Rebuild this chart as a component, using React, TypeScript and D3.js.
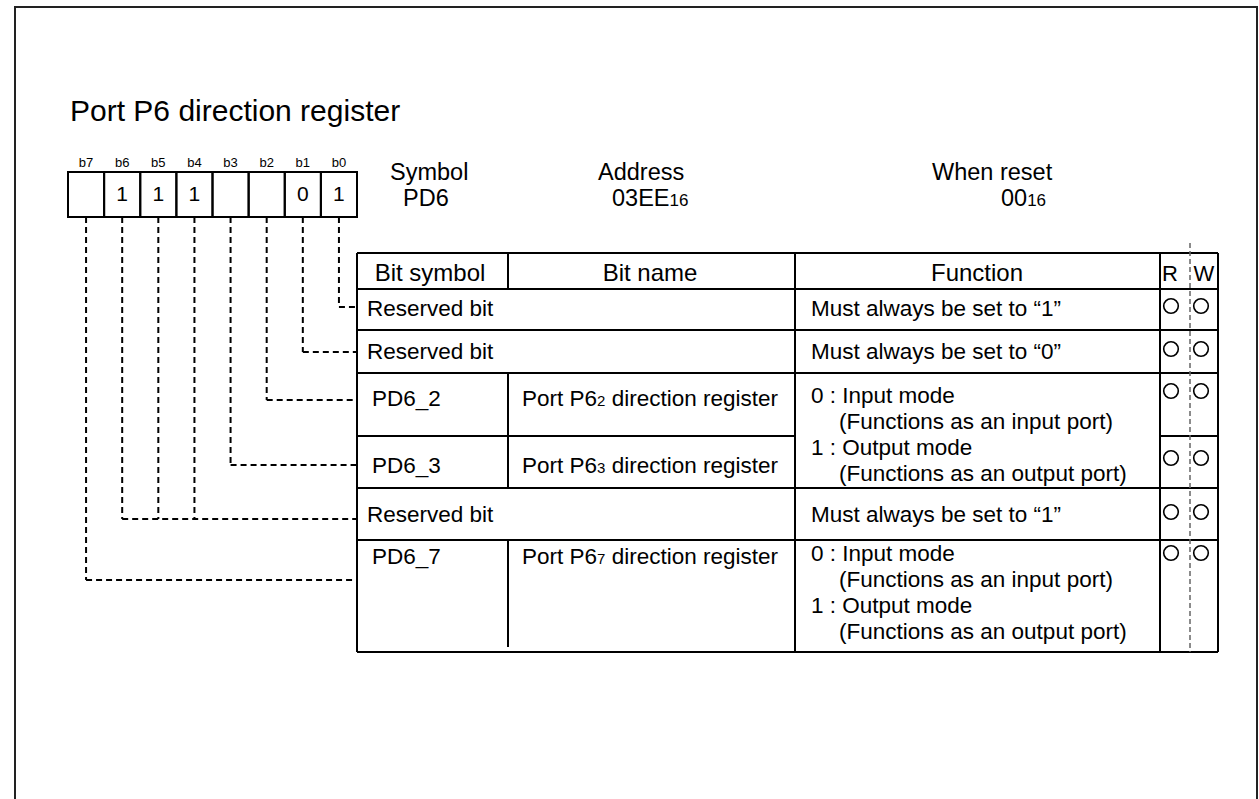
import * as d3 from "d3";
import React from "react";

// register title and bit header
const title = "Port P6 direction register";
const bitLabels = ["b7", "b6", "b5", "b4", "b3", "b2", "b1", "b0"];
const bitValues = ["", "1", "1", "1", "", "", "0", "1"];

// symbol / address / reset value
const infoLabels = ["Symbol", "Address", "When reset"];
const infoValues = ["PD6", "03EE", "00"];
const infoSubs = ["", "16", "16"];

// table columns and rows
const columnTitles = ["Bit symbol", "Bit name", "Function", "R", "W"];
const rowSymbols = ["Reserved bit", "Reserved bit", "PD6_2", "PD6_3", "Reserved bit", "PD6_7"];
const rowNameSubs = ["", "", "2", "3", "", "7"];
const rowBits = [["b0"], ["b1"], ["b2"], ["b3"], ["b4", "b5", "b6"], ["b7"]];
const rowRead = ["O", "O", "O", "O", "O", "O"];
const rowWrite = ["O", "O", "O", "O", "O", "O"];
const functionLines = [
  ["Must always be set to \u201c1\u201d"],
  ["Must always be set to \u201c0\u201d"],
  ["0 : Input mode", "(Functions as an input port)", "1 : Output mode", "(Functions as an output port)"],
  [],
  ["Must always be set to \u201c1\u201d"],
  ["0 : Input mode", "(Functions as an input port)", "1 : Output mode", "(Functions as an output port)"],
];
// how many table rows each function cell covers
const functionSpan = [1, 1, 2, 0, 1, 1];

const FONT = "'Liberation Sans', Arial, Helvetica, sans-serif";

export default function App() {
  const ref = React.useRef<SVGSVGElement>(null);

  React.useEffect(() => {
    const svg = d3.select(ref.current);
    svg.selectAll("*").remove();
    svg.style("font-family", FONT);

    // page frame
    svg
      .append("rect")
      .attr("x", 15)
      .attr("y", 7)
      .attr("width", 1242)
      .attr("height", 900)
      .attr("fill", "none")
      .attr("stroke", "#222")
      .attr("stroke-width", 2);

    // title
    svg
      .append("text")
      .attr("x", 70)
      .attr("y", 121)
      .style("font-size", "30px")
      .text(title);

    // bit boxes
    const x = d3.scaleBand().domain(bitLabels).range([68, 357]);
    const boxTop = 172;
    const boxBottom = 217;

    svg
      .append("g")
      .selectAll("text")
      .data(bitLabels)
      .join("text")
      .attr("x", (d) => x(d)! + x.bandwidth() / 2)
      .attr("y", 167)
      .attr("text-anchor", "middle")
      .style("font-size", "13px")
      .text((d) => d);

    svg
      .append("g")
      .selectAll("rect")
      .data(bitLabels)
      .join("rect")
      .attr("x", (d) => x(d)!)
      .attr("y", boxTop)
      .attr("width", x.bandwidth())
      .attr("height", boxBottom - boxTop)
      .attr("fill", "none")
      .attr("stroke", "#000")
      .attr("stroke-width", 2);

    svg
      .append("g")
      .selectAll("text")
      .data(bitLabels)
      .join("text")
      .attr("x", (d) => x(d)! + x.bandwidth() / 2)
      .attr("y", 201)
      .attr("text-anchor", "middle")
      .style("font-size", "21px")
      .text((d, i) => bitValues[i]);

    // symbol, address, reset value
    const infoX = d3.scaleOrdinal<string, number>().domain(infoLabels).range([390, 598, 932]);
    const infoValX = d3.scaleOrdinal<string, number>().domain(infoLabels).range([403, 612, 1001]);
    infoLabels.forEach((label, i) => {
      svg
        .append("text")
        .attr("x", infoX(label))
        .attr("y", 180)
        .style("font-size", "23.5px")
        .text(label);
      const t = svg
        .append("text")
        .attr("x", infoValX(label))
        .attr("y", 206)
        .style("font-size", "23.5px");
      t.append("tspan").text(infoValues[i]);
      if (infoSubs[i]) t.append("tspan").style("font-size", "17px").text(infoSubs[i]);
    });

    // table geometry
    const colX = [357, 508, 795, 1160, 1190, 1218];
    const rowIds = rowSymbols.map((d, i) => i);
    const headTop = 253;
    const rowTop = d3.scaleOrdinal<number, number>().domain(rowIds).range([289, 330, 373, 436, 488, 540]);
    const rowBottom = d3.scaleOrdinal<number, number>().domain(rowIds).range([330, 373, 436, 488, 540, 652]);
    const leaderY = d3.scaleOrdinal<number, number>().domain(rowIds).range([307, 352, 400, 465, 519, 580]);
    const symbolY = d3.scaleOrdinal<number, number>().domain(rowIds).range([308, 351, 398, 465, 514, 556]);
    const markY = d3.scaleOrdinal<number, number>().domain(rowIds).range([306, 349, 391, 458, 512, 553]);
    const lineStep = 26;
    const tableBottom = 652;

    const lines = svg.append("g").attr("stroke", "#000").attr("stroke-width", 2).attr("fill", "none");
    const hline = (x1: number, x2: number, y: number) =>
      lines.append("line").attr("x1", x1).attr("x2", x2).attr("y1", y).attr("y2", y);
    const vline = (xx: number, y1: number, y2: number) =>
      lines.append("line").attr("x1", xx).attr("x2", xx).attr("y1", y1).attr("y2", y2);

    // outer frame of table
    hline(colX[0], colX[5], headTop);
    hline(colX[0], colX[5], rowTop(0));
    hline(colX[0], colX[5], tableBottom);
    vline(colX[0], headTop, tableBottom);
    vline(colX[2], headTop, tableBottom);
    vline(colX[3], headTop, tableBottom);
    vline(colX[5], headTop, tableBottom);
    vline(colX[1], headTop, rowTop(0));

    rowIds.forEach((r) => {
      if (r > 0) {
        hline(colX[0], colX[2], rowTop(r));
        hline(colX[3], colX[5], rowTop(r));
        if (functionSpan[r] > 0) hline(colX[2], colX[3], rowTop(r));
      }
      if (rowNameSubs[r]) {
        const bottom = r === rowIds.length - 1 ? rowBottom(r) - 5 : rowBottom(r);
        vline(colX[1], rowTop(r), bottom);
      }
    });

    // R / W dashed divider
    svg
      .append("line")
      .attr("x1", colX[4])
      .attr("x2", colX[4])
      .attr("y1", 243)
      .attr("y2", tableBottom)
      .attr("stroke", "#666")
      .attr("stroke-width", 1.5)
      .attr("stroke-dasharray", "5,3");

    // column titles
    const headY = 281;
    const headX = [430, 650, 977, 1170, 1204];
    svg
      .append("g")
      .selectAll("text")
      .data(columnTitles)
      .join("text")
      .attr("x", (d, i) => headX[i])
      .attr("y", headY)
      .attr("text-anchor", "middle")
      .style("font-size", (d, i) => (i < 3 ? "24px" : "22px"))
      .text((d) => d);

    // row texts
    const body = svg.append("g").style("font-size", "22.5px");
    rowIds.forEach((r) => {
      const isReserved = !rowNameSubs[r];
      body
        .append("text")
        .attr("x", isReserved ? 367 : 372)
        .attr("y", symbolY(r) + 8)
        .text(rowSymbols[r]);
      if (!isReserved) {
        const t = body.append("text").attr("x", 522).attr("y", symbolY(r) + 8);
        t.append("tspan").text("Port P6");
        t.append("tspan").style("font-size", "15px").text(rowNameSubs[r]);
        t.append("tspan").text(" direction register");
      }
      const fl = functionLines[r];
      fl.forEach((line, k) => {
        const y0 = fl.length === 1 ? symbolY(r) : symbolY(r) - 3;
        body
          .append("text")
          .attr("x", line.startsWith("(") ? 839 : 811)
          .attr("y", y0 + k * lineStep + 8)
          .text(line);
      });
      // R / W marks
      [
        [rowRead[r], 1171],
        [rowWrite[r], 1201],
      ].forEach(([m, cx]) => {
        if (m === "O")
          svg
            .append("circle")
            .attr("cx", cx as number)
            .attr("cy", markY(r))
            .attr("r", 7.3)
            .attr("fill", "none")
            .attr("stroke", "#000")
            .attr("stroke-width", 1.6);
      });
    });

    // leader lines from the bit boxes
    const leaders = svg
      .append("g")
      .attr("stroke", "#000")
      .attr("stroke-width", 2)
      .attr("fill", "none")
      .attr("stroke-dasharray", "6,4");
    rowIds.forEach((r) => {
      const xs = rowBits[r].map((b) => x(b)! + x.bandwidth() / 2);
      xs.forEach((cx) => {
        leaders
          .append("path")
          .attr("d", d3.line()([[cx, boxBottom], [cx, leaderY(r)]]));
      });
      leaders
        .append("path")
        .attr("d", d3.line()([[d3.min(xs)!, leaderY(r)], [colX[0], leaderY(r)]]));
    });
  }, []);

  return (
    <div style={{ position: "absolute", left: 0, top: 0 }}>
      <svg ref={ref} width={1259} height={799} style={{ display: "block", background: "#fff" }} />
    </div>
  );
}
